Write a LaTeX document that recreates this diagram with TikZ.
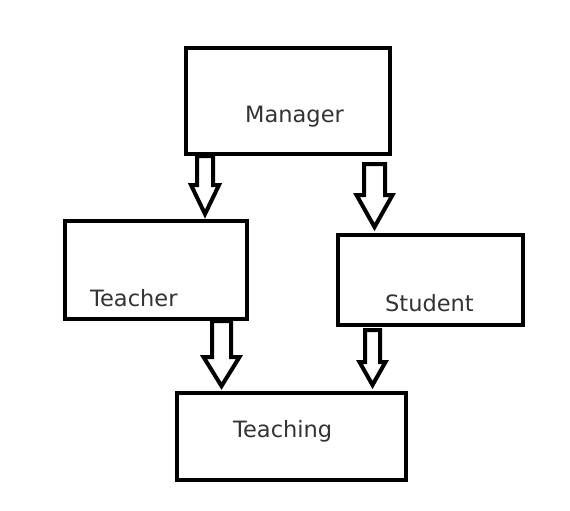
\documentclass[tikz,border=0pt]{standalone}
\usepackage{fontspec}
\setmainfont{DejaVu Sans}
\usetikzlibrary{calc}
\definecolor{textgray}{HTML}{333333}
\tikzset{
  boxnode/.style={draw=black, line width=4pt, fill=white, rectangle, inner sep=0pt, minimum width=#1},
  boxnode/.default=100pt,
  lbl/.style={anchor=base west, inner sep=0pt, text=textgray, font=\fontsize{22.5}{27}\selectfont},
  blockarr/.style={draw=black, fill=white, line width=4pt, line join=miter, miter limit=10}
}
% #1 top coordinate, #2 tip coordinate, #3 shaft half width, #4 head half width, #5 head length
\newcommand{\blockarrow}[5]{%
  \draw[blockarr] ($(#1)+(-#3,0)$) -- ($(#2)+(-#3,-#5)$) -- ($(#2)+(-#4,-#5)$) -- (#2)
    -- ($(#2)+(#4,-#5)$) -- ($(#2)+(#3,-#5)$) -- ($(#1)+(#3,0)$) -- cycle;}
\begin{document}
\begin{tikzpicture}[x=1pt,y=-1pt]
\useasboundingbox (0,0) rectangle (570,511);
\fill[white] (0,0) rectangle (570,511);
% boxes
\node[boxnode=204pt, minimum height=106pt] (manager) at (288,101) {};
\node[boxnode=182pt, minimum height=98pt] (teacher) at (156,270) {};
\node[boxnode=185pt, minimum height=90pt] (student) at (430,279.5) {};
\node[boxnode=229pt, minimum height=87pt] (teaching) at (291.5,436) {};
% labels
\node[lbl] (managerlbl) at (245,122) {Manager};
\node[lbl] (teacherlbl) at (90,306) {Teacher};
\node[lbl] (studentlbl) at (385,311) {Student};
\node[lbl] (teachinglbl) at (233,437) {Teaching};
% arrow end points
\coordinate (a1s) at (205,0 |- manager.south);
\coordinate (a1t) at (205,214);
\coordinate (a2s) at (374.5,164);
\coordinate (a2t) at (374.5,227);
\coordinate (a3s) at (221.5,0 |- teacher.south);
\coordinate (a3t) at (221.5,386);
\coordinate (a4s) at (372.5,330);
\coordinate (a4t) at (372.5,385);
% arrows
\blockarrow{a1s}{a1t}{8}{14}{29}
\blockarrow{a2s}{a2t}{10.5}{18}{32}
\blockarrow{a3s}{a3t}{9.5}{18}{29}
\blockarrow{a4s}{a4t}{7.5}{13}{23}
\end{tikzpicture}
\end{document}
